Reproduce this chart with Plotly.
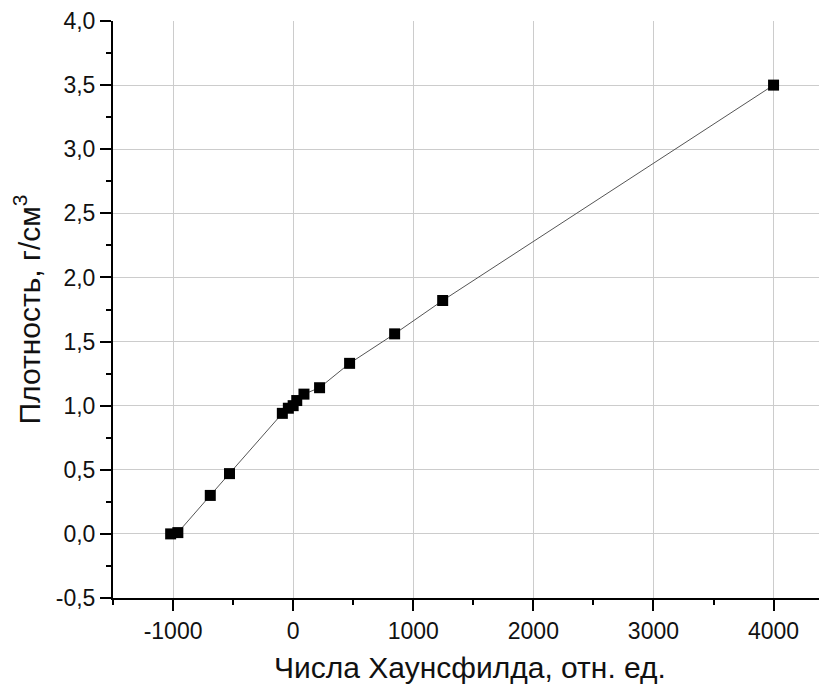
import plotly.graph_objects as go

hu = [-1020, -960, -690, -530, -90, -40, 0, 30, 90, 220, 470, 845, 1245, 4000]
density = [0.0, 0.01, 0.30, 0.47, 0.94, 0.98, 1.00, 1.04, 1.09, 1.14, 1.33, 1.56, 1.82, 3.50]

x_ticks = [-1000, 0, 1000, 2000, 3000, 4000]
x_ticktext = ["-1000", "0", "1000", "2000", "3000", "4000"]
x_minor = [-1500, -500, 500, 1500, 2500, 3500]
y_ticks = [-0.5, 0.0, 0.5, 1.0, 1.5, 2.0, 2.5, 3.0, 3.5, 4.0]
y_ticktext = ["-0,5", "0,0", "0,5", "1,0", "1,5", "2,0", "2,5", "3,0", "3,5", "4,0"]
y_minor = [-0.25, 0.25, 0.75, 1.25, 1.75, 2.25, 2.75, 3.25, 3.75]

fig = go.Figure()
fig.add_trace(go.Scatter(
    x=hu, y=density, mode="lines+markers",
    line=dict(color="#555555", width=1),
    marker=dict(symbol="square", size=11, color="black", line=dict(width=0)),
    showlegend=False, cliponaxis=False,
))

font = "Liberation Sans, Arial, sans-serif"
fig.update_layout(
    width=827, height=693,
    margin=dict(l=105, r=8, t=13, b=103),
    paper_bgcolor="white", plot_bgcolor="white",
    font=dict(family=font, size=23, color="#111111"),
    xaxis=dict(
        range=[-1500, 4445], tickmode="array", tickvals=x_ticks, ticktext=x_ticktext,
        tickfont=dict(size=23), ticklabeloverflow="allow",
        showgrid=True, gridcolor="#cccccc", gridwidth=1, zeroline=False,
        showline=True, linecolor="black", linewidth=2, automargin=False,
        ticks="outside", ticklen=11, tickwidth=2, tickcolor="black",
        minor=dict(tickmode="array", tickvals=x_minor, ticks="outside", ticklen=5,
                   tickwidth=2, tickcolor="black", showgrid=False),
        title=dict(text="Числа Хаунсфилда, отн. ед.", font=dict(size=30), standoff=14),
    ),
    yaxis=dict(
        range=[-0.5, 4.0], tickmode="array", tickvals=y_ticks, ticktext=y_ticktext,
        tickfont=dict(size=23), ticklabeloverflow="allow",
        showgrid=True, gridcolor="#cccccc", gridwidth=1, zeroline=False,
        showline=True, linecolor="black", linewidth=2, automargin=False,
        ticks="outside", ticklen=11, tickwidth=2, tickcolor="black",
        minor=dict(tickmode="array", tickvals=y_minor, ticks="outside", ticklen=5,
                   tickwidth=2, tickcolor="black", showgrid=False),
        title=dict(text="Плотность, г/см<sup>3</sup>", font=dict(size=30), standoff=10),
    ),
)

fig.write_html("out.html")
